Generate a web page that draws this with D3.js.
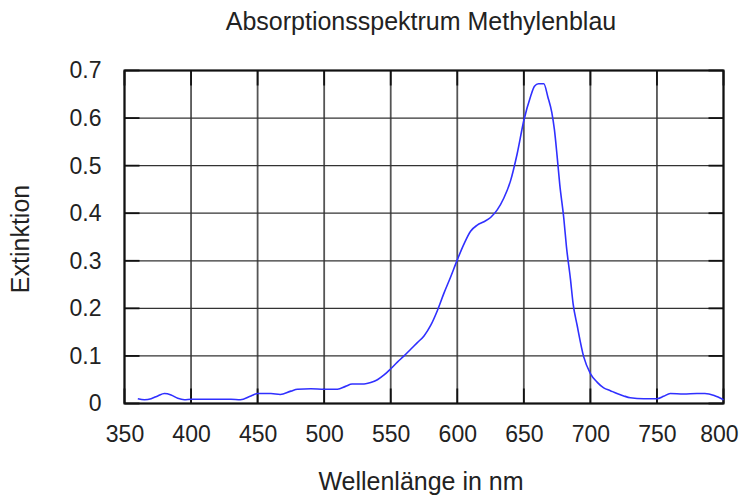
<!DOCTYPE html>
<html>
<head>
<meta charset="utf-8">
<script src="https://cdn.jsdelivr.net/npm/d3@7/dist/d3.min.js"></script>
<style>
  html, body { margin: 0; padding: 0; background: #fff; }
  svg { display: block; }
  text { font-family: "Liberation Sans", Arial, sans-serif; fill: #222; }
</style>
</head>
<body>
<script>
const title = "Absorptionsspektrum Methylenblau";
const xLabel = "Wellenlänge in nm";
const yLabel = "Extinktion";
const xTicks = [350, 400, 450, 500, 550, 600, 650, 700, 750, 800];
const yTicks = [0, 0.1, 0.2, 0.3, 0.4, 0.5, 0.6, 0.7];

const wavelength = [360, 365, 370, 375, 380, 385, 390, 395, 400, 410, 420, 430, 437, 445, 450, 460, 467, 475, 480, 490, 500, 510, 516, 521, 530, 535, 540, 545, 550, 555, 560, 565, 570, 575, 580, 585, 590, 595, 600, 605, 610, 615, 620, 625, 630, 635, 640, 645, 650, 655, 658, 661, 665, 668, 671, 673, 675, 677, 680, 682, 685, 687, 690, 695, 700, 705, 710, 715, 720, 725, 730, 740, 750, 755, 760, 770, 780, 786, 793, 800];
const extinction = [0.010, 0.008, 0.010, 0.016, 0.021, 0.018, 0.011, 0.008, 0.009, 0.009, 0.009, 0.009, 0.008, 0.016, 0.021, 0.021, 0.019, 0.026, 0.030, 0.031, 0.030, 0.030, 0.036, 0.041, 0.041, 0.044, 0.050, 0.060, 0.073, 0.087, 0.100, 0.114, 0.128, 0.142, 0.164, 0.195, 0.232, 0.266, 0.302, 0.335, 0.362, 0.375, 0.382, 0.391, 0.407, 0.432, 0.468, 0.525, 0.595, 0.645, 0.667, 0.672, 0.672, 0.645, 0.612, 0.575, 0.520, 0.460, 0.390, 0.330, 0.262, 0.210, 0.165, 0.098, 0.063, 0.045, 0.033, 0.027, 0.021, 0.016, 0.012, 0.010, 0.010, 0.015, 0.021, 0.020, 0.021, 0.021, 0.017, 0.008];

const W = 740, H = 495;
const svg = d3.select("body").append("svg").attr("width", W).attr("height", H);

const x = d3.scaleLinear().domain([350, 800]).range([124.5, 723.5]);
const y = d3.scaleLinear().domain([0, 0.7]).range([403.5, 70.5]);

// grid
const grid = svg.append("g");
grid.selectAll("line.vx").data(xTicks).enter().append("line")
  .attr("x1", d => x(d)).attr("x2", d => x(d))
  .attr("y1", y(0)).attr("y2", y(0.7))
  .attr("stroke", "#555").attr("stroke-width", 1.8);
grid.selectAll("line.hy").data(yTicks).enter().append("line")
  .attr("y1", d => y(d)).attr("y2", d => y(d))
  .attr("x1", x(350)).attr("x2", x(800))
  .attr("stroke", "#333").attr("stroke-width", 1.3);

// inner tick marks
const tl = 15;
const tk = svg.append("g").attr("stroke", "#111").attr("stroke-width", 1.8);
xTicks.forEach(d => {
  tk.append("line").attr("x1", x(d)).attr("x2", x(d)).attr("y1", y(0)).attr("y2", y(0) - tl);
  tk.append("line").attr("x1", x(d)).attr("x2", x(d)).attr("y1", y(0.7)).attr("y2", y(0.7) + tl);
});
yTicks.forEach(d => {
  tk.append("line").attr("y1", y(d)).attr("y2", y(d)).attr("x1", x(350)).attr("x2", x(350) + tl);
  tk.append("line").attr("y1", y(d)).attr("y2", y(d)).attr("x1", x(800)).attr("x2", x(800) - tl);
});

// frame
svg.append("rect")
  .attr("x", x(350)).attr("y", y(0.7))
  .attr("width", x(800) - x(350)).attr("height", y(0) - y(0.7))
  .attr("fill", "none").attr("stroke", "#111").attr("stroke-width", 2);

// curve
const line = d3.line()
  .x((d, i) => x(wavelength[i]))
  .y(d => y(d))
  .curve(d3.curveMonotoneX);
svg.append("path")
  .datum(extinction)
  .attr("d", line)
  .attr("fill", "none")
  .attr("stroke", "#3030ff")
  .attr("stroke-width", 1.6);

// axes labels via d3 axes
const fmt = d => d === 0 ? "0" : d3.format(".1f")(d);
const xAxis = svg.append("g").attr("transform", `translate(0,${y(0)})`)
  .call(d3.axisBottom(x).tickValues(xTicks).tickSize(0).tickPadding(22).tickFormat(d3.format("d")));
xAxis.select(".domain").remove();
xAxis.selectAll("text").style("font-size", "23px").style("font-family", "'Liberation Sans', Arial, sans-serif").attr("fill", "#222");
// keep the last label inside the picture, as in the reference
xAxis.selectAll(".tick").filter(d => d === 800).select("text")
  .attr("text-anchor", "end").attr("x", 738 - x(800));

const yAxis = svg.append("g").attr("transform", `translate(${x(350)},0)`)
  .call(d3.axisLeft(y).tickValues(yTicks).tickSize(0).tickPadding(23).tickFormat(fmt));
yAxis.select(".domain").remove();
yAxis.selectAll("text").style("font-size", "23px").style("font-family", "'Liberation Sans', Arial, sans-serif").attr("fill", "#222");

svg.append("text").attr("x", 421).attr("y", 30).attr("text-anchor", "middle")
  .style("font-size", "25px").text(title);
svg.append("text").attr("x", 421).attr("y", 490).attr("text-anchor", "middle")
  .style("font-size", "25px").text(xLabel);
svg.append("text").attr("transform", "translate(29,239) rotate(-90)").attr("text-anchor", "middle")
  .style("font-size", "25px").text(yLabel);
</script>
</body>
</html>
